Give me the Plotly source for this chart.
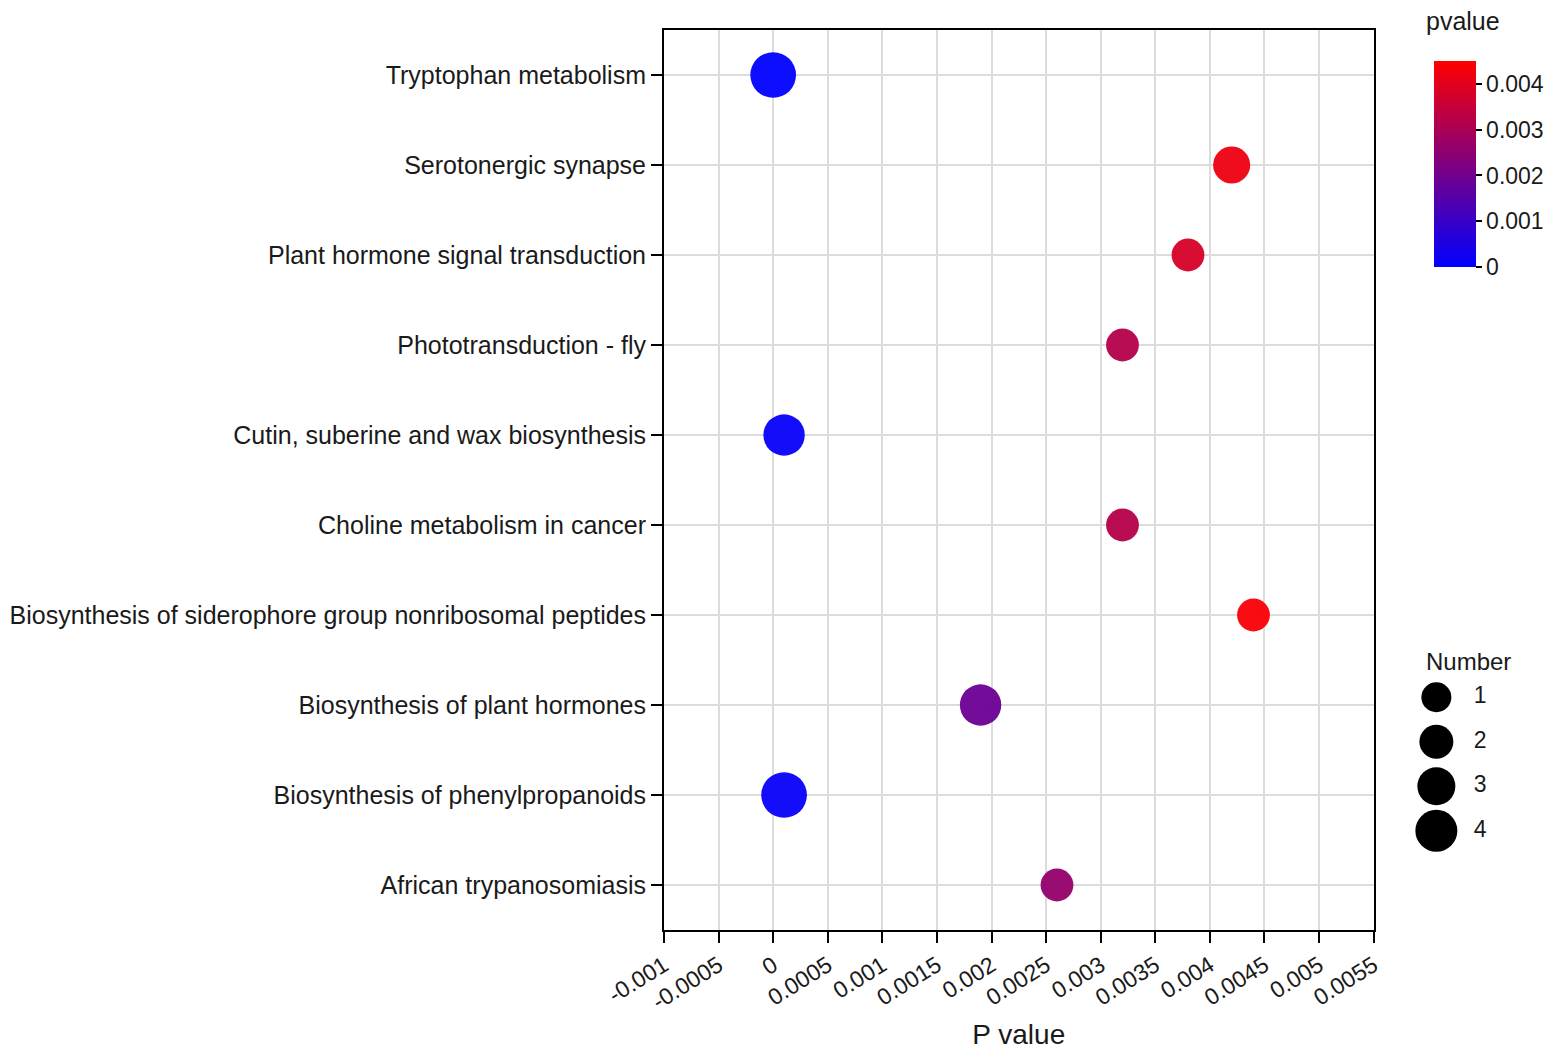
import plotly.graph_objects as go

# pathway terms, top to bottom
pathways = [
    "Tryptophan metabolism",
    "Serotonergic synapse",
    "Plant hormone signal transduction",
    "Phototransduction - fly",
    "Cutin, suberine and wax biosynthesis",
    "Choline metabolism in cancer",
    "Biosynthesis of siderophore group nonribosomal peptides",
    "Biosynthesis of plant hormones",
    "Biosynthesis of phenylpropanoids",
    "African trypanosomiasis",
]
pvalues = [0.0000, 0.0042, 0.0038, 0.0032, 0.0001, 0.0032, 0.0044, 0.0019, 0.0001, 0.0026]
numbers = [4, 2, 1, 1, 3, 1, 1, 3, 4, 1]

legend_numbers = [1, 2, 3, 4]

x_ticks = [-0.001, -0.0005, 0, 0.0005, 0.001, 0.0015, 0.002, 0.0025,
           0.003, 0.0035, 0.004, 0.0045, 0.005, 0.0055]
x_ticktext = ["-0.001", "-0.0005", "0", "0.0005", "0.001", "0.0015", "0.002", "0.0025",
              "0.003", "0.0035", "0.004", "0.0045", "0.005", "0.0055"]
cbar_ticks = [0, 0.001, 0.002, 0.003, 0.004]
cbar_ticktext = ["0", "0.001", "0.002", "0.003", "0.004"]

FONT = "Liberation Sans, Arial, sans-serif"
TXT = "#1a1a1a"

# page body adds an 8px margin, so the figure is a bit smaller than the window
OFF = 8
W, H = 1559 - 2 * OFF, 1058 - 2 * OFF
# plot box in window pixels: x 664..1376, y 30..930
ML = 664 - OFF
MT = 30 - OFF
MB = H - (930 - OFF)
MR = 6
plot_w = W - ML - MR
plot_h = H - MT - MB


def px_x(x):
    return (x - 664) / plot_w


def px_y(y):
    return (930 - y) / plot_h


fig = go.Figure()

fig.add_trace(go.Scatter(
    x=pvalues, y=pathways, mode="markers",
    marker=dict(
        size=[28.5 + 4.3 * n for n in numbers],
        color=pvalues, cmin=0, cmax=0.0045,
        colorscale=[[0, "#0000ff"], [1, "#ff0000"]],
        opacity=0.95, line=dict(width=0),
        colorbar=dict(
            x=px_x(1437), xanchor="left",
            y=px_y(164), yanchor="middle",
            thickness=42, lenmode="pixels", len=206,
            xpad=0, ypad=0, outlinewidth=0,
            tickvals=cbar_ticks, ticktext=cbar_ticktext,
            ticks="outside", ticklen=6, tickwidth=2, tickcolor="black",
            tickfont=dict(family=FONT, size=23, color=TXT),
        ),
    ),
    showlegend=False, hoverinfo="x+y",
))

# size legend ("Number")
fig.add_trace(go.Scatter(
    x=[0] * len(legend_numbers), y=legend_numbers, mode="markers",
    marker=dict(size=[26 + 4 * n for n in legend_numbers], color="#000000",
                opacity=1, line=dict(width=0)),
    xaxis="x2", yaxis="y2", showlegend=False, hoverinfo="skip",
))
fig.add_trace(go.Scatter(
    x=[1] * len(legend_numbers), y=legend_numbers, mode="text",
    text=[str(n) for n in legend_numbers],
    textfont=dict(family=FONT, size=23, color=TXT),
    xaxis="x2", yaxis="y2", showlegend=False, hoverinfo="skip",
))

fig.update_layout(
    width=W, height=H,
    margin=dict(l=ML, r=MR, t=MT, b=MB),
    plot_bgcolor="white", paper_bgcolor="white",
    font=dict(family=FONT, color=TXT),
    xaxis=dict(
        domain=[0, px_x(1376)],
        range=[-0.001, 0.0055],
        tickvals=x_ticks, ticktext=x_ticktext, tickangle=-32,
        tickfont=dict(size=23, color=TXT),
        ticks="outside", ticklen=11, tickwidth=2, tickcolor="black",
        showgrid=True, gridcolor="#dcdcdc", gridwidth=2,
        showline=True, linecolor="black", linewidth=2, mirror=True,
        zeroline=False, automargin=False,
        title=dict(text="P value", font=dict(size=28, color=TXT), standoff=22),
    ),
    yaxis=dict(
        categoryorder="array", categoryarray=pathways,
        range=[len(pathways) - 0.5, -0.5],
        tickfont=dict(size=25, color=TXT),
        ticks="outside", ticklen=11, tickwidth=2, tickcolor="black",
        showgrid=True, gridcolor="#dcdcdc", gridwidth=2,
        showline=True, linecolor="black", linewidth=2, mirror=True,
        zeroline=False, automargin=False,
    ),
    xaxis2=dict(
        domain=[px_x(1400), 1.0], anchor="y2",
        range=[(1400 - 1439) / 44, (1400 + plot_w * (1 - px_x(1400)) - 1439) / 44],
        visible=False, fixedrange=True, automargin=False,
    ),
    yaxis2=dict(
        domain=[px_y(853), px_y(675)], anchor="x2",
        range=[4.5, 0.5], visible=False, fixedrange=True, automargin=False,
    ),
    annotations=[
        dict(text="pvalue", xref="paper", yref="paper",
             x=px_x(1427), y=px_y(21),
             xanchor="left", yanchor="middle", showarrow=False,
             font=dict(family=FONT, size=25, color=TXT)),
        dict(text="Number", xref="paper", yref="paper",
             x=px_x(1427), y=px_y(661),
             xanchor="left", yanchor="middle", showarrow=False,
             font=dict(family=FONT, size=24, color=TXT)),
    ],
)

fig.write_html("out.html")
